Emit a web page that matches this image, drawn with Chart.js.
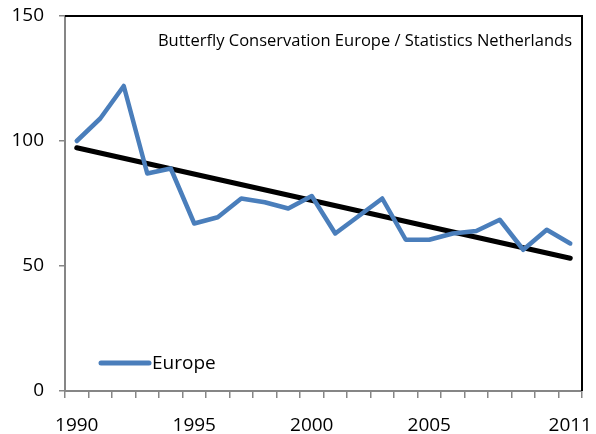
<!DOCTYPE html>
<html>
<head>
<meta charset="utf-8">
<script src="https://cdn.jsdelivr.net/npm/chart.js@4/dist/chart.umd.min.js"></script>
<style>
  body { margin: 0; background: #fff; }
  canvas { display: block; }
</style>
</head>
<body>
<canvas id="chart" width="596" height="434"></canvas>
<script>
//Data
let years = ['1990','1991','1992','1993','1994','1995','1996','1997','1998','1999','2000',
             '2001','2002','2003','2004','2005','2006','2007','2008','2009','2010','2011'];
let europe = [100, 109, 122, 87, 89, 67, 69.5, 77, 75.5, 73, 78,
              63, 70, 77, 60.5, 60.5, 63, 64, 68.5, 56.5, 64.5, 59];
// trend line only has its two end values, gap spanned in between
let trend = [97.3, null, null, null, null, null, null, null, null, null, null,
             null, null, null, null, null, null, null, null, null, null, 53.1];
let shownYears = ['1990', '1995', '2000', '2005', '2011'];
let yTicks = [0, 50, 100, 150];
let sourceText = 'Butterfly Conservation Europe / Statistics Netherlands';

const axisGrey = '#868686';
const blue = '#4A7EBB';

Chart.defaults.font.family = '"Open Sans", sans-serif';
Chart.defaults.color = '#000';

//draws the top/right frame, source text and inner legend
const extras = {
    id: 'extras',
    afterDraw(chart) {
        let ctx = chart.ctx;
        let a = chart.chartArea;
        ctx.save();
        ctx.strokeStyle = '#000';
        ctx.lineWidth = 2;
        ctx.beginPath();
        ctx.moveTo(a.left, a.top);
        ctx.lineTo(a.right, a.top);
        ctx.lineTo(a.right, a.bottom);
        ctx.stroke();

        ctx.fillStyle = '#000';
        ctx.font = '16.5px "Open Sans", sans-serif';
        ctx.textAlign = 'right';
        ctx.textBaseline = 'middle';
        ctx.fillText(sourceText, a.right - 10, a.top + 25);

        ctx.strokeStyle = blue;
        ctx.lineWidth = 5;
        ctx.lineCap = 'round';
        ctx.beginPath();
        ctx.moveTo(a.left + 36, a.bottom - 28);
        ctx.lineTo(a.left + 84, a.bottom - 28);
        ctx.stroke();
        ctx.font = '19px "Open Sans", sans-serif';
        ctx.textAlign = 'left';
        ctx.fillText(chart.data.datasets[0].label, a.left + 87, a.bottom - 27);
        ctx.restore();
    }
};

let ctx = document.getElementById('chart').getContext('2d');
let chart = new Chart(ctx, {
    type: 'line',
    data: {
        labels: years,
        datasets: [{
            label: 'Europe',
            data: europe,
            borderColor: blue,
            borderWidth: 4.5,
            pointRadius: 0,
            tension: 0,
            borderJoinStyle: 'round',
            borderCapStyle: 'round'
        }, {
            label: 'trend',
            data: trend,
            spanGaps: true,
            borderColor: '#000',
            borderWidth: 5,
            pointRadius: 0,
            borderCapStyle: 'round'
        }]
    },
    options: {
        responsive: false,
        animation: false,
        layout: { padding: { top: 16, right: 14, left: 0, bottom: 0 } },
        plugins: {
            legend: { display: false },
            tooltip: { enabled: false }
        },
        scales: {
            x: {
                type: 'category',
                offset: true,
                afterFit(scale) {
                    scale.height = 43;
                    scale.paddingLeft = 0;
                    scale.paddingRight = 0;
                },
                grid: {
                    offset: true,
                    drawOnChartArea: false,
                    color: axisGrey,
                    lineWidth: 1.5,
                    tickLength: 7
                },
                border: { color: axisGrey, width: 2 },
                ticks: {
                    autoSkip: false,
                    maxRotation: 0,
                    padding: 16,
                    font: { size: 19 },
                    callback: function (val) {
                        let lab = this.getLabelForValue(val);
                        return shownYears.includes(lab) ? lab : '';
                    }
                }
            },
            y: {
                min: yTicks[0],
                max: yTicks[yTicks.length - 1],
                afterFit(scale) {
                    scale.width = 65;
                    scale.paddingTop = 0;
                    scale.paddingBottom = 0;
                },
                afterBuildTicks(scale) { scale.ticks = yTicks.map(v => ({ value: v })); },
                grid: {
                    drawOnChartArea: false,
                    color: axisGrey,
                    lineWidth: 1.5,
                    tickLength: 6
                },
                border: { color: axisGrey, width: 2 },
                ticks: {
                    padding: 15,
                    font: { size: 19 }
                }
            }
        }
    },
    plugins: [extras]
});
</script>
</body>
</html>
